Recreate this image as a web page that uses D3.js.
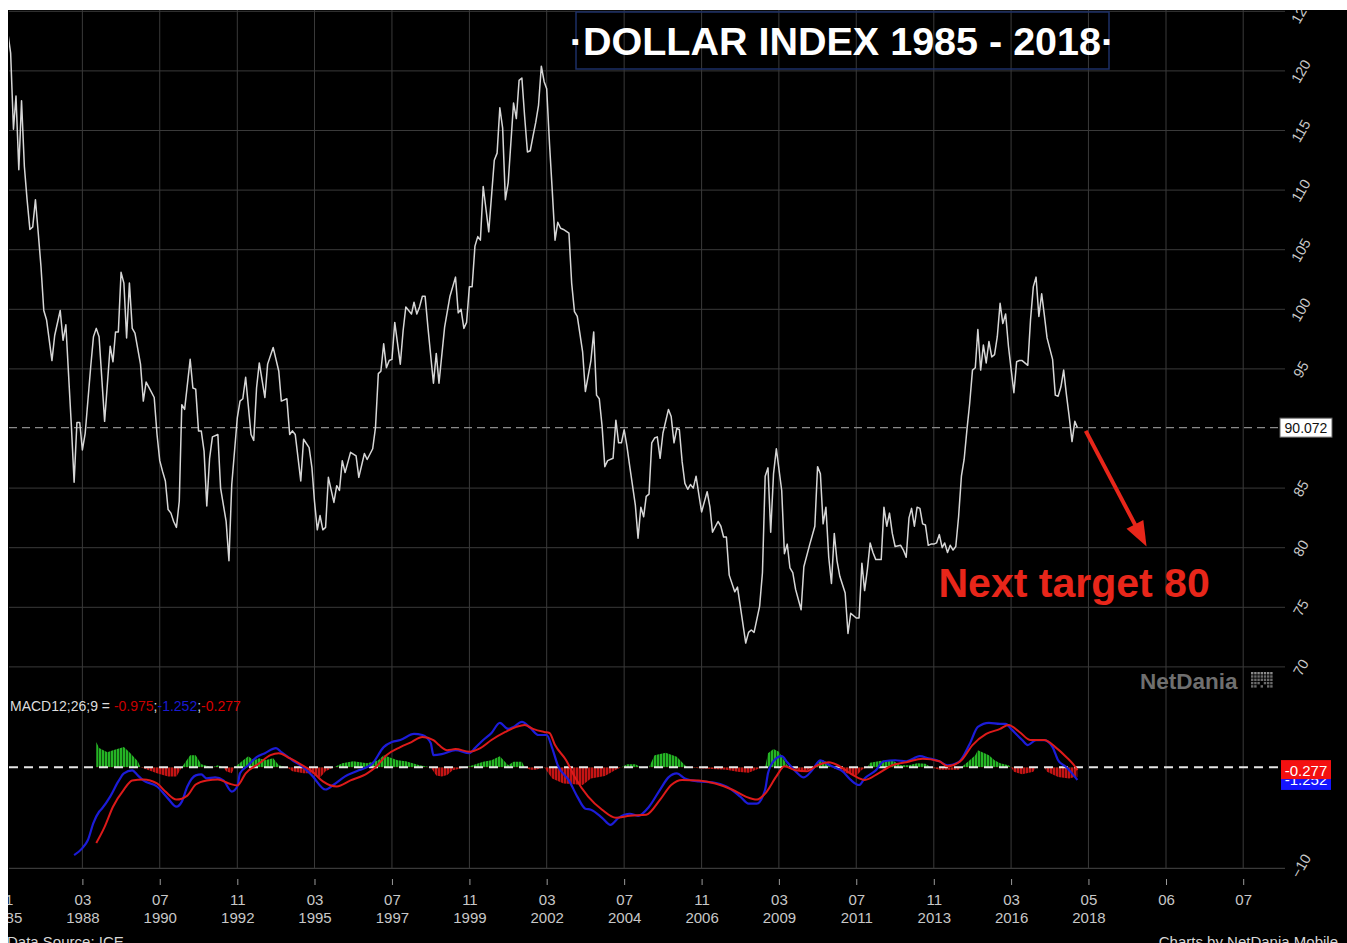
<!DOCTYPE html>
<html><head><meta charset="utf-8">
<script src="https://cdn.jsdelivr.net/npm/d3@7/dist/d3.min.js"></script>
<style>
html,body{margin:0;padding:0;background:#fff;overflow:hidden;}
svg{display:block;font-family:"Liberation Sans",Arial,Helvetica,sans-serif;}
</style></head><body>
<svg id="chart" width="1347" height="943"></svg>
<script>
// ---------------- DATA ----------------
// Dollar index, monthly readings [month, value]
const dxySeries = [
["1985-12",123.2],["1986-01",121.5],["1986-02",115.1],["1986-03",117.9],["1986-04",111.7],["1986-05",117.5],["1986-06",112.0],["1986-07",109.2],["1986-08",106.7],["1986-09",106.9],["1986-10",109.2],["1986-11",106.4],["1986-12",103.6],
["1987-01",99.9],["1987-02",99.1],["1987-04",95.7],["1987-05",97.8],["1987-07",99.9],["1987-08",97.4],["1987-09",98.7],["1987-11",90.2],["1987-12",85.5],
["1988-01",90.5],["1988-02",90.5],["1988-03",88.2],["1988-04",89.6],["1988-06",95.2],["1988-07",97.7],["1988-08",98.4],["1988-09",97.7],["1988-11",90.6],
["1989-01",96.9],["1989-02",95.6],["1989-03",98.1],["1989-04",98.1],["1989-05",103.1],["1989-06",102.2],["1989-07",97.6],["1989-08",102.2],["1989-09",98.4],["1989-10",98.0],["1989-12",95.4],
["1990-01",92.3],["1990-02",93.9],["1990-03",93.5],["1990-05",92.6],["1990-06",89.5],["1990-07",87.3],["1990-08",86.4],["1990-09",85.6],["1990-10",83.2],["1990-11",82.9],["1990-12",82.2],
["1991-01",81.7],["1991-02",83.9],["1991-03",92.0],["1991-04",91.6],["1991-06",95.8],["1991-07",93.4],["1991-08",93.3],["1991-09",89.8],["1991-10",89.8],["1991-11",88.1],["1991-12",83.5],
["1992-01",87.5],["1992-02",89.3],["1992-04",89.5],["1992-05",85.0],["1992-07",82.2],["1992-08",78.9],["1992-09",85.3],["1992-11",90.9],["1992-12",92.3],
["1993-01",92.5],["1993-02",94.3],["1993-03",92.0],["1993-04",89.5],["1993-05",89.0],["1993-06",93.4],["1993-07",95.5],["1993-09",92.6],["1993-10",95.4],["1993-12",96.8],
["1994-02",94.8],["1994-03",92.3],["1994-05",92.5],["1994-06",89.5],["1994-07",89.8],["1994-08",89.5],["1994-10",85.6],["1994-11",89.1],
["1995-01",88.4],["1995-02",86.7],["1995-03",83.9],["1995-04",81.5],["1995-05",82.7],["1995-06",81.5],["1995-07",81.7],["1995-08",85.9],["1995-10",83.8],["1995-11",85.2],["1995-12",84.8],
["1996-01",87.3],["1996-02",86.3],["1996-04",88.0],["1996-06",87.7],["1996-07",85.9],["1996-09",87.9],["1996-10",87.4],["1996-12",88.3],
["1997-01",90.1],["1997-02",94.6],["1997-03",94.8],["1997-04",97.1],["1997-05",95.1],["1997-06",95.7],["1997-07",95.8],["1997-08",98.9],["1997-10",95.4],["1997-11",98.2],["1997-12",100.2],
["1998-02",99.6],["1998-03",100.6],["1998-04",99.6],["1998-05",100.2],["1998-06",101.1],["1998-07",101.1],["1998-08",98.5],["1998-10",93.8],["1998-11",96.3],["1998-12",93.8],
["1999-02",98.5],["1999-04",101.1],["1999-06",102.7],["1999-07",99.7],["1999-08",100.0],["1999-09",98.4],["1999-10",98.9],["1999-11",101.9],["1999-12",101.9],
["2000-01",105.3],["2000-02",106.1],["2000-03",105.8],["2000-04",110.3],["2000-06",106.5],["2000-08",112.5],["2000-09",113.1],["2000-10",116.9],["2000-11",115.2],["2000-12",109.2],
["2001-01",110.6],["2001-03",117.3],["2001-04",116.0],["2001-05",119.2],["2001-06",119.4],["2001-07",116.2],["2001-08",113.2],["2001-09",113.3],["2001-10",114.5],["2001-11",115.7],["2001-12",117.1],
["2002-01",120.4],["2002-02",119.1],["2002-03",118.5],["2002-04",113.9],["2002-05",110.0],["2002-06",105.8],["2002-07",107.3],["2002-08",106.8],["2002-09",106.7],["2002-11",106.4],["2002-12",102.2],
["2003-01",99.8],["2003-02",99.4],["2003-03",98.0],["2003-04",96.4],["2003-05",93.1],["2003-07",95.7],["2003-08",98.1],["2003-09",92.8],["2003-10",92.5],["2003-11",90.2],["2003-12",86.8],
["2004-01",87.3],["2004-03",87.5],["2004-04",90.7],["2004-05",88.8],["2004-06",88.8],["2004-07",89.9],["2004-08",88.5],["2004-09",86.8],["2004-11",83.6],["2004-12",80.8],
["2005-01",83.4],["2005-02",82.6],["2005-03",84.3],["2005-04",84.5],["2005-05",88.8],["2005-06",89.2],["2005-07",89.3],["2005-08",87.5],["2005-09",89.6],["2005-11",91.6],["2005-12",91.0],
["2006-01",88.8],["2006-02",90.0],["2006-03",89.9],["2006-04",87.2],["2006-05",85.4],["2006-06",84.9],["2006-07",85.3],["2006-08",85.0],["2006-09",86.0],["2006-10",84.5],["2006-11",83.0],
["2007-01",84.7],["2007-02",83.4],["2007-03",81.3],["2007-05",82.2],["2007-06",81.8],["2007-07",80.9],["2007-08",80.9],["2007-09",77.7],["2007-11",76.3],["2007-12",76.7],
["2008-01",75.1],["2008-03",72.0],["2008-04",72.9],["2008-05",73.1],["2008-06",72.9],["2008-08",75.1],["2008-09",77.9],["2008-10",86.0],["2008-11",86.7],["2008-12",81.3],
["2009-01",86.2],["2009-02",88.3],["2009-04",84.8],["2009-05",79.5],["2009-06",80.3],["2009-07",78.3],["2009-08",77.9],["2009-09",76.5],["2009-11",74.8],["2009-12",78.4],
["2010-02",80.2],["2010-04",81.8],["2010-05",86.8],["2010-06",86.2],["2010-07",82.0],["2010-08",83.4],["2010-09",79.2],["2010-10",77.0],["2010-11",81.2],["2010-12",78.9],
["2011-01",77.6],["2011-03",76.2],["2011-04",72.8],["2011-05",74.5],["2011-07",74.1],["2011-08",74.1],["2011-09",78.7],["2011-10",76.4],["2011-11",78.2],["2011-12",80.4],
["2012-01",79.6],["2012-02",79.0],["2012-04",79.0],["2012-05",83.4],["2012-06",81.8],["2012-07",82.9],["2012-08",81.2],["2012-09",80.1],["2012-11",80.2],["2012-12",79.8],
["2013-01",79.2],["2013-02",82.5],["2013-03",83.3],["2013-04",81.8],["2013-05",83.4],["2013-06",83.3],["2013-07",82.0],["2013-08",81.9],["2013-09",80.2],["2013-10",80.3],["2013-11",80.3],["2013-12",80.4],
["2014-01",81.1],["2014-02",80.0],["2014-03",80.4],["2014-04",79.6],["2014-05",80.2],["2014-06",79.8],["2014-07",80.1],["2014-08",82.6],["2014-09",86.0],["2014-10",87.4],["2014-11",89.9],["2014-12",92.1],
["2015-01",94.9],["2015-02",95.1],["2015-03",98.3],["2015-04",94.9],["2015-05",97.0],["2015-06",95.5],["2015-07",97.3],["2015-08",96.0],["2015-09",96.2],["2015-10",97.7],["2015-11",100.5],["2015-12",98.8],
["2016-01",99.6],["2016-02",96.9],["2016-03",95.0],["2016-04",93.0],["2016-05",95.6],["2016-06",95.7],["2016-07",95.7],["2016-09",95.3],["2016-10",99.1],["2016-11",101.9],["2016-12",102.7],
["2017-01",99.4],["2017-02",101.3],["2017-03",99.6],["2017-04",97.6],["2017-06",95.8],["2017-07",92.8],["2017-08",92.7],["2017-09",93.5],["2017-10",94.9],["2017-11",92.8],["2017-12",91.0],
["2018-01",88.9],["2018-02",90.6],["2018-03",90.072]
];
// MACD line (blue)
const macdSeries = [
["1987-12",-8.7],["1988-03",-8.0],["1988-05",-7.2],["1988-07",-5.5],["1988-09",-4.4],["1988-10",-4.1],["1989-01",-2.9],["1989-04",-1.4],["1989-06",-0.6],["1989-09",-0.3],["1989-11",-0.8],
["1990-01",-1.3],["1990-06",-1.9],["1990-10",-3.1],["1991-01",-3.9],["1991-03",-3.4],["1991-05",-1.9],["1991-08",-0.8],["1991-10",-0.7],["1991-12",-1.1],["1992-03",-1.0],["1992-06",-1.3],
["1992-09",-2.4],["1992-11",-1.9],["1992-12",-0.6],["1993-03",0.2],["1993-06",1.0],["1993-09",1.4],["1994-01",1.9],["1994-03",1.5],["1994-07",0.7],["1994-11",0.0],["1995-02",-0.8],
["1995-07",-2.2],["1995-10",-1.7],["1996-02",-0.9],["1996-07",-0.3],["1996-12",0.4],["1997-04",2.0],["1997-07",2.5],["1997-10",2.7],["1998-03",3.3],["1998-06",3.2],["1998-09",2.4],
["1998-10",1.2],["1999-01",1.3],["1999-06",1.7],["1999-11",1.4],["2000-01",1.9],["2000-04",2.7],["2000-07",3.4],["2000-10",4.4],["2001-01",3.8],["2001-03",4.0],["2001-06",4.5],
["2001-09",3.9],["2001-12",3.2],["2002-03",3.2],["2002-05",1.9],["2002-07",0.2],["2002-11",-1.3],["2003-02",-2.9],["2003-05",-4.1],["2003-07",-4.2],["2003-11",-5.0],["2004-02",-5.7],
["2004-05",-5.0],["2004-09",-4.6],["2004-12",-4.8],["2005-04",-3.9],["2005-08",-2.2],["2005-11",-1.0],["2006-02",-0.6],["2006-05",-1.1],["2006-10",-1.4],["2007-03",-1.5],["2007-08",-1.9],
["2008-01",-2.9],["2008-04",-3.6],["2008-07",-3.6],["2008-10",-2.2],["2008-11",-0.6],["2009-01",0.6],["2009-04",1.1],["2009-06",0.5],["2009-09",-0.4],["2009-12",-1.0],["2010-03",-0.3],
["2010-06",0.7],["2010-08",0.4],["2010-11",0.0],["2011-02",-0.4],["2011-05",-1.25],["2011-08",-1.75],["2011-10",-1.1],["2012-02",-0.3],["2012-05",0.6],["2012-09",0.7],["2013-01",0.6],
["2013-06",1.1],["2013-09",0.9],["2014-01",0.6],["2014-04",0.2],["2014-08",0.5],["2014-12",2.3],["2015-03",4.0],["2015-07",4.4],["2015-11",4.3],["2016-01",4.3],["2016-03",3.8],
["2016-07",2.7],["2016-09",2.2],["2016-12",2.7],["2017-03",2.7],["2017-06",2.0],["2017-08",0.7],["2017-11",0.0],["2018-01",-0.6],["2018-03",-1.252]
];
// Signal line (red)
const signalSeries = [
["1988-08",-7.5],["1988-11",-5.9],["1989-02",-3.9],["1989-06",-2.2],["1989-09",-1.3],["1990-01",-1.2],["1990-06",-1.6],["1990-09",-2.4],["1991-01",-3.2],["1991-05",-2.8],["1991-08",-1.7],
["1991-12",-1.3],["1992-04",-1.2],["1992-08",-1.6],["1992-11",-1.8],["1993-02",-0.6],["1993-07",0.4],["1993-11",1.2],["1994-02",1.4],["1994-06",0.9],["1994-10",0.3],["1995-02",-0.4],
["1995-06",-1.4],["1995-11",-1.9],["1996-04",-1.3],["1996-10",-0.6],["1997-01",0.0],["1997-05",1.2],["1997-10",2.0],["1998-02",2.5],["1998-06",3.0],["1998-10",2.7],["1998-12",2.2],
["1999-03",1.7],["1999-06",1.8],["1999-11",1.55],["2000-03",1.9],["2000-07",2.7],["2000-12",3.5],["2001-04",4.0],["2001-07",4.2],["2001-10",3.8],["2002-02",3.5],["2002-04",3.4],
["2002-06",2.2],["2002-10",0.7],["2003-01",-0.9],["2003-06",-2.9],["2003-11",-4.2],["2004-04",-5.0],["2004-09",-4.8],["2005-03",-4.7],["2005-08",-3.2],["2005-12",-1.75],["2006-04",-1.25],
["2006-10",-1.3],["2007-04",-1.6],["2007-10",-2.2],["2008-03",-2.9],["2008-07",-3.2],["2008-10",-2.6],["2009-02",-0.9],["2009-05",0.1],["2009-09",-0.3],["2010-01",-0.4],["2010-05",0.2],
["2010-09",0.5],["2011-01",0.1],["2011-06",-0.8],["2011-10",-1.25],["2012-03",-0.6],["2012-08",0.2],["2013-01",0.5],["2013-07",0.85],["2014-01",0.6],["2014-04",0.1],["2014-09",0.7],
["2015-01",2.2],["2015-06",3.3],["2015-11",3.8],["2016-02",4.2],["2016-06",3.5],["2016-10",2.7],["2017-03",2.7],["2017-07",2.0],["2017-11",1.0],["2018-02",0.1],["2018-03",-0.277]
];
// Histogram (MACD - signal)
const histSeries = [
["1988-08",2.5],["1988-09",1.9],["1988-12",1.5],["1989-02",1.7],["1989-06",2.0],["1989-08",1.5],["1989-11",0.6],["1989-12",0],
["1990-06",-0.6],["1990-10",-0.9],["1991-01",-0.9],["1991-03",0],["1991-06",1.2],["1991-08",1.2],["1991-10",0.3],["1992-02",0],["1992-04",0.2],["1992-06",0],
["1992-07",-0.4],["1992-09",-0.6],["1992-10",0],["1993-03",1.1],["1993-05",0.7],["1993-07",0.9],["1993-09",0.7],["1993-12",0.9],["1994-02",0.2],["1994-05",0],
["1994-07",-0.4],["1994-11",-0.6],["1995-02",-0.6],["1995-05",-1.0],["1995-07",-0.4],["1995-10",0],["1996-01",0.4],["1996-05",0.6],["1996-10",0.4],["1997-02",0.7],
["1997-04",1.2],["1997-06",1.0],["1997-09",0.7],["1997-12",0.6],["1998-05",0.2],["1998-09",0],["1998-11",-0.8],["1999-01",-0.9],["1999-03",-0.75],["1999-05",-0.3],
["1999-10",0],["2000-04",0.55],["2000-07",0.7],["2000-10",1.1],["2001-01",0.2],["2001-03",0.55],["2001-06",0.55],["2001-07",0],["2001-09",-0.25],["2001-11",-0.25],
["2002-02",0],["2002-05",-1.1],["2002-09",-1.6],["2002-12",-1.65],["2003-04",-1.75],["2003-07",-1.1],["2003-12",-0.85],["2004-04",-0.25],["2004-06",0],["2004-08",0.3],
["2004-11",0.3],["2005-01",0],["2005-04",0],["2005-06",1.2],["2005-10",1.45],["2006-02",1.05],["2006-05",0.2],["2006-06",0],["2006-10",-0.1],["2007-08",-0.25],
["2007-12",-0.45],["2008-04",-0.55],["2008-08",-0.1],["2008-10",0],["2008-11",1.4],["2009-01",1.8],["2009-03",1.55],["2009-06",0.2],["2009-08",0],["2009-10",-0.3],
["2009-11",-0.5],["2010-02",-0.2],["2010-04",0],["2010-05",0.55],["2010-07",0.7],["2010-09",0.4],["2010-11",0],["2011-01",-0.2],["2011-03",-0.55],["2011-07",-0.85],
["2011-09",-0.25],["2011-11",0],["2011-12",0.45],["2012-04",0.65],["2012-08",0.7],["2012-11",0.2],["2013-02",0.2],["2013-05",0.4],["2013-08",0.35],["2013-10",0],
["2014-01",-0.25],["2014-05",-0.25],["2014-08",-0.25],["2014-09",0],["2014-12",0.7],["2015-02",1.2],["2015-03",1.7],["2015-07",1.2],["2015-09",0.7],["2015-11",0.4],
["2016-02",0.2],["2016-03",0],["2016-04",-0.45],["2016-07",-0.7],["2016-11",-0.45],["2016-12",0],["2017-03",0],["2017-04",-0.45],["2017-08",-0.95],["2017-12",-1.1],
["2018-02",-0.95],["2018-03",-0.975]
];
// X axis ticks
const xTickDates  = ["1985-11","1988-03","1990-07","1992-11","1995-03","1997-07","1999-11","2002-03","2004-07","2006-11","2009-03","2011-07","2013-11","2016-03","2018-07","2020-11","2023-03"];
const xTickMonths = ["11","03","07","11","03","07","11","03","07","11","03","07","11","03","05","06","07"];
const xTickYears  = ["1985","1988","1990","1992","1995","1997","1999","2002","2004","2006","2009","2011","2013","2016","2018","",""];
// Y axis ticks
const priceTicks = [70,75,80,85,90,95,100,105,110,115,120,125];
const priceLabels = [70,75,80,85,95,100,105,110,115,120,125];
const macdLabels = [-10];
const lastPrice = 90.072;
const macdLast = -1.252, signalLast = -0.277, histLast = -0.975;
// Annotation (in data space)
const arrowFrom = ["2018-06", 89.8];
const arrowTo = ["2020-04", 80.1];
const targetText = "Next target 80";
const targetAt = ["2013-12", 75.85];

// ---------------- DRAW ----------------
const parse = d3.timeParse("%Y-%m");
const svg = d3.select("#chart");
const W = 1347, H = 943;
const L = 9, R = 1285;

const x = d3.scaleTime()
  .domain([new Date(1985,10,1), new Date(2025,10,1)])
  .range([5.1, 5.1 + 480*2.764]);
const y = d3.scaleLinear().domain([70,125]).range([666.9, 11.3]);
const ym = d3.scaleLinear().domain([-10,0]).range([868.3, 767.3]);

const defs = svg.append("defs");
defs.append("clipPath").attr("id","clipMain").append("rect").attr("x",L).attr("y",10).attr("width",R-L).attr("height",690);
defs.append("clipPath").attr("id","clipPos").append("rect").attr("x",L).attr("y",690).attr("width",R-L).attr("height",ym(0)-690);
defs.append("clipPath").attr("id","clipNeg").append("rect").attr("x",L).attr("y",ym(0)).attr("width",R-L).attr("height",868-ym(0));
const pg = defs.append("pattern").attr("id","pg").attr("width",3).attr("height",4).attr("patternUnits","userSpaceOnUse");
pg.append("rect").attr("width",3).attr("height",4).attr("fill","#0e4f0e");
pg.append("rect").attr("width",2).attr("height",4).attr("fill","#25b425");
const pr = defs.append("pattern").attr("id","pr").attr("width",3).attr("height",4).attr("patternUnits","userSpaceOnUse");
pr.append("rect").attr("width",3).attr("height",4).attr("fill","#5a0a0a");
pr.append("rect").attr("width",2).attr("height",4).attr("fill","#c41414");

// background
svg.append("rect").attr("width",W).attr("height",H).attr("fill","#000");

// grid
const gridColor = "#3a3a3a";
svg.append("g").selectAll("line").data(xTickDates).join("line")
  .attr("x1",d=>x(parse(d))).attr("x2",d=>x(parse(d)))
  .attr("y1",10).attr("y2",ym(-10))
  .attr("stroke",gridColor).attr("stroke-width",1);
svg.append("g").selectAll("line").data(priceTicks.filter(v=>v!==90)).join("line")
  .attr("x1",L).attr("x2",R).attr("y1",d=>y(d)).attr("y2",d=>y(d))
  .attr("stroke",gridColor).attr("stroke-width",1);
svg.append("g").selectAll("line").data(macdLabels).join("line")
  .attr("x1",L).attr("x2",R).attr("y1",d=>ym(d)).attr("y2",d=>ym(d))
  .attr("stroke",gridColor).attr("stroke-width",1.2);

// title
svg.append("rect").attr("x",576).attr("y",12).attr("width",533).attr("height",57)
  .attr("fill","none").attr("stroke","#1d2f66").attr("stroke-width",1.5);
svg.append("text").attr("x",842).attr("y",55).attr("text-anchor","middle")
  .attr("font-size",39.5).attr("font-weight","bold").attr("fill","#fff")
  .text("\u00B7DOLLAR INDEX 1985 - 2018\u00B7");

// last price dashed line
svg.append("line").attr("x1",L).attr("x2",1280).attr("y1",y(lastPrice)).attr("y2",y(lastPrice))
  .attr("stroke","#8a8a8a").attr("stroke-width",1.3).attr("stroke-dasharray","8,5");

// price line
const dxy = dxySeries.map(d=>({date:parse(d[0]), v:d[1]}));
svg.append("path").datum(dxy).attr("clip-path","url(#clipMain)")
  .attr("fill","none").attr("stroke","#d6d6d6").attr("stroke-width",1.5).attr("stroke-linejoin","round")
  .attr("d", d3.line().x(d=>x(d.date)).y(d=>y(d.v)));

// annotation arrow
(function(){
  const x1 = x(parse(arrowFrom[0])), y1 = y(arrowFrom[1]);
  const x2 = x(parse(arrowTo[0])), y2 = y(arrowTo[1]);
  const dx = x2-x1, dy = y2-y1, len = Math.hypot(dx,dy);
  const ux = dx/len, uy = dy/len, hl = 25, hw = 9.5;
  const bx = x2-ux*hl, by = y2-uy*hl;
  const c = "#e8261a";
  svg.append("line").attr("x1",x1).attr("y1",y1).attr("x2",bx+ux*2).attr("y2",by+uy*2)
    .attr("stroke",c).attr("stroke-width",4);
  svg.append("path").attr("fill",c)
    .attr("d",`M${x2},${y2}L${bx-uy*hw},${by+ux*hw}L${bx+uy*hw},${by-ux*hw}Z`);
  svg.append("text").attr("x",x(parse(targetAt[0]))+2).attr("y",y(targetAt[1]))
    .attr("font-size",41).attr("font-weight","bold").attr("fill",c).text(targetText);
})();

// NetDania logo
svg.append("text").attr("x",1140).attr("y",689).attr("font-size",22.5).attr("font-weight","bold")
  .attr("fill","#6f6f6f").text("NetDania");
const logo = svg.append("g").attr("transform","translate(1251,672)");
for(let r=0;r<5;r++){for(let c=0;c<7;c++){
  if(r>=3 && c>=2 && c<=4 && (r+c)%2===0) continue;
  logo.append("rect").attr("x",c*3.2).attr("y",r*3.3).attr("width",2.4).attr("height",2.4)
   .attr("fill", (r===0)?"#8a8a8a":"#6a6a6a");
}}

// price axis labels (right)
const yAx = svg.append("g").attr("transform","translate(1301,0)")
  .call(d3.axisRight(y).tickValues(priceLabels).tickSize(0).tickPadding(0).tickFormat(d3.format("d")));
yAx.select(".domain").remove();
yAx.attr("font-family",null).attr("font-size",null);
yAx.selectAll("text").attr("x",0).attr("dy",null).attr("text-anchor","middle")
  .attr("dominant-baseline","central").attr("transform","rotate(-60)")
  .attr("font-size",14.5).attr("fill","#c8c8c8");

// last price box
svg.append("rect").attr("x",1280).attr("y",y(lastPrice)-9.5).attr("width",52).attr("height",19)
  .attr("fill","#fff").attr("stroke","#666").attr("stroke-width",1);
svg.append("text").attr("x",1306).attr("y",y(lastPrice)+5).attr("text-anchor","middle")
  .attr("font-size",14).attr("fill","#111").text(lastPrice.toFixed(3));

// MACD histogram
const hist = histSeries.map(d=>({date:parse(d[0]), v:d[1]}));
const harea = d3.area().x(d=>x(d.date)).y0(ym(0)).y1(d=>ym(d.v));
svg.append("path").datum(hist).attr("clip-path","url(#clipPos)").attr("fill","url(#pg)").attr("d",harea);
svg.append("path").datum(hist).attr("clip-path","url(#clipNeg)").attr("fill","url(#pr)").attr("d",harea);

// zero dashed line
svg.append("line").attr("x1",L).attr("x2",1282).attr("y1",ym(0)).attr("y2",ym(0))
  .attr("stroke","#e6e6e6").attr("stroke-width",2).attr("stroke-dasharray","9,6");

// MACD lines
const mline = d3.line().x(d=>x(d.date)).y(d=>ym(d.v)).curve(d3.curveMonotoneX);
svg.append("path").datum(macdSeries.map(d=>({date:parse(d[0]),v:d[1]})))
  .attr("fill","none").attr("stroke","#1c1cd8").attr("stroke-width",2.2).attr("d",mline);
svg.append("path").datum(signalSeries.map(d=>({date:parse(d[0]),v:d[1]})))
  .attr("fill","none").attr("stroke","#dd1a1a").attr("stroke-width",2).attr("d",mline);

// MACD header
const hdr = svg.append("text").attr("x",10).attr("y",711).attr("font-size",14).attr("fill","#dddddd");
hdr.append("tspan").text("MACD12;26;9 = ");
hdr.append("tspan").attr("fill","#c80000").text(histLast.toFixed(3));
hdr.append("tspan").text(";");
hdr.append("tspan").attr("fill","#1a1ad0").text(macdLast.toFixed(3));
hdr.append("tspan").text(";");
hdr.append("tspan").attr("fill","#d80000").text(signalLast.toFixed(3));

// MACD axis labels
const mAx = svg.append("g").attr("transform","translate(1301,-3)")
  .call(d3.axisRight(ym).tickValues(macdLabels).tickSize(0).tickPadding(0).tickFormat(d3.format("d")));
mAx.select(".domain").remove();
mAx.attr("font-family",null).attr("font-size",null);
mAx.selectAll("text").attr("x",0).attr("dy",null).attr("text-anchor","middle")
  .attr("dominant-baseline","central").attr("transform","rotate(-60)")
  .attr("font-size",14.5).attr("fill","#c8c8c8");

// value boxes
svg.append("rect").attr("x",1281).attr("y",ym(macdLast)-10).attr("width",50).attr("height",20).attr("fill","#1515ff");
svg.append("text").attr("x",1306).attr("y",ym(macdLast)+5).attr("text-anchor","middle").attr("font-size",15).attr("fill","#fff").text(macdLast.toFixed(3));
svg.append("rect").attr("x",1281).attr("y",ym(signalLast)-10).attr("width",50).attr("height",19).attr("fill","#f41010");
svg.append("text").attr("x",1306).attr("y",ym(signalLast)+5.5).attr("text-anchor","middle").attr("font-size",15).attr("fill","#fff").text(signalLast.toFixed(3));

// X axis
const xAx = svg.append("g").attr("transform","translate(0,879)")
  .call(d3.axisBottom(x).tickValues(xTickDates.map(parse)).tickSize(6).tickFormat(()=>""));
xAx.select(".domain").remove();
xAx.attr("font-family",null).attr("font-size",null);
xAx.selectAll(".tick line").attr("stroke","#9a9a9a");
xAx.selectAll(".tick text").each(function(d,i){
  const t = d3.select(this).attr("dy",null).attr("y",null).attr("font-size",15).attr("fill","#c8c8c8");
  t.text(null);
  t.append("tspan").attr("x",0).attr("y",26).text(xTickMonths[i]);
  t.append("tspan").attr("x",0).attr("y",43.5).text(xTickYears[i]);
});

// footer
svg.append("text").attr("x",7).attr("y",947).attr("font-size",15).attr("fill","#d8d8d8").text("Data Source: ICE");
svg.append("text").attr("x",1338).attr("y",947).attr("text-anchor","end").attr("font-size",15).attr("fill","#d8d8d8").text("Charts by NetDania Mobile");

// screenshot borders
svg.append("rect").attr("x",0).attr("y",0).attr("width",W).attr("height",10).attr("fill","#fff");
svg.append("rect").attr("x",0).attr("y",0).attr("width",8).attr("height",H).attr("fill","#fff");
</script>
</body></html>
